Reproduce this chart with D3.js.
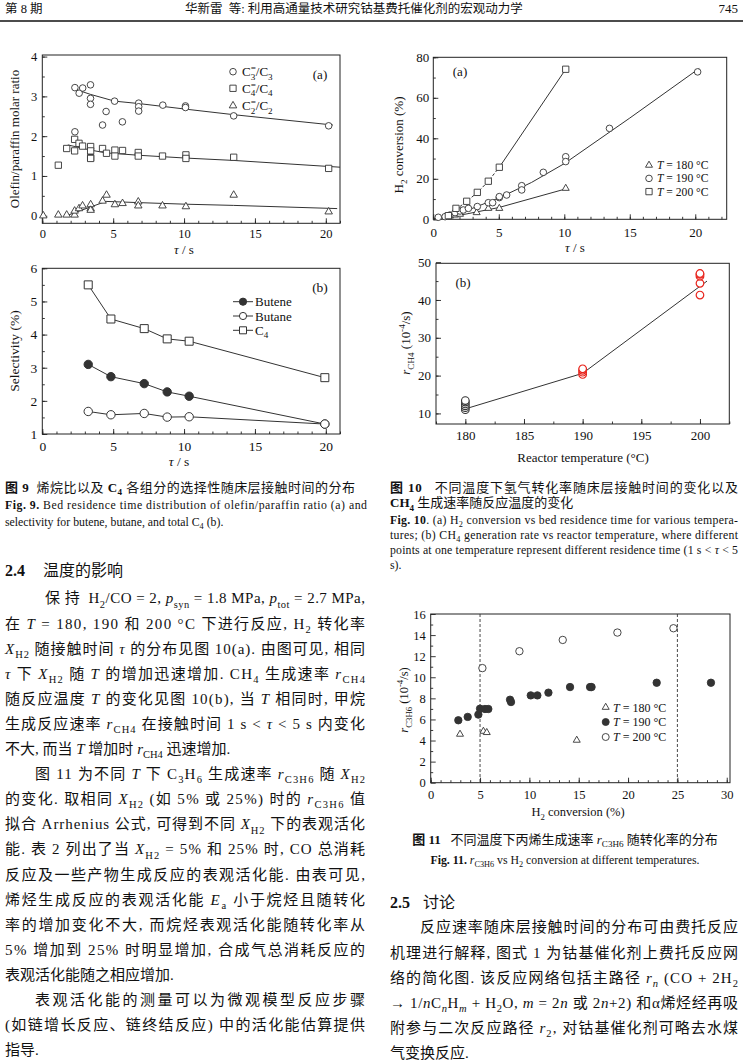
<!DOCTYPE html>
<html><head><meta charset="utf-8">
<script src="https://cdn.jsdelivr.net/npm/d3@7"></script>
<style>body{margin:0;background:#fff}svg text{white-space:pre}</style>
</head><body>
<svg id="c" width="743" height="1063"></svg>
<script>
// ---------------- DATA ----------------
// Fig 9(a): olefin/paraffin ratio vs tau
const ratioC3 = [[2.3,3.22],[2.6,3.08],[2.85,3.21],[3.4,3.29],[3.4,2.95],[3.4,2.8],[4.25,2.28],[4.5,2.62],[5.1,2.88],[5.65,2.36],[6.8,2.83],[6.8,2.74],[6.8,2.63],[8.5,2.78],[10.1,2.76],[10.1,2.72],[13.5,2.51],[20.2,2.26],[2.3,2.11]];
const ratioC4 = [[1.13,1.27],[1.72,1.69],[2.28,1.92],[2.28,1.63],[2.59,1.82],[2.84,1.75],[3.41,1.74],[3.41,1.63],[3.41,1.46],[3.41,1.44],[4.25,1.69],[4.53,1.57],[5.12,1.65],[5.12,1.5],[5.66,1.64],[6.77,1.59],[6.77,1.5],[8.48,1.5],[10.13,1.53],[10.13,1.44],[13.5,1.47],[20.2,1.19]];
const ratioC2 = [[0.07,0],[1.13,0.02],[1.72,0.02],[2.28,0.02],[2.28,0.12],[2.59,0.18],[2.84,0.25],[3.41,0.18],[3.41,0.28],[3.41,0.14],[4.25,0.37],[4.53,0.52],[5.12,0.28],[5.66,0.31],[6.77,0.35],[6.77,0.25],[8.48,0.25],[10.13,0.23],[13.5,0.52],[20.2,0.1]];
const fitC3 = [[2.3,3.18],[3.4,3.05],[5.1,2.88],[6.8,2.82],[10.1,2.68],[13.5,2.54],[20.5,2.28]];
const fitC4 = [[1.8,1.78],[3.4,1.65],[4.5,1.58],[6.8,1.52],[10.1,1.45],[13.5,1.39],[21,1.22]];
const fitC2 = [[1.7,0],[3.4,0.22],[4.5,0.36],[6.8,0.33],[10.1,0.29],[13.5,0.26],[20.8,0.18]];
// Fig 9(b): selectivity
const tau9b = [3.24,4.84,7.19,8.81,10.36,19.93];
const selButene = [3.1,2.73,2.52,2.27,2.14,1.3];
const selButane = [1.68,1.58,1.62,1.51,1.52,1.3];
const selC4 = [5.5,4.47,4.18,3.87,3.8,2.7];
// Fig 10(a): H2 conversion vs tau
const h2conv180 = [[1.27,1.6],[1.66,2.1],[2.04,2.5],[3.31,3.3],[4.2,5.4],[5.04,5.4],[10.11,15.3]];
const h2conv190 = [[0.38,1.0],[0.9,1.3],[1.27,2.1],[1.66,3.3],[2.04,4.1],[2.29,4.6],[2.68,5.4],[3.36,6.3],[4.2,8.2],[4.53,8.2],[5.04,10.7],[5.04,11.2],[5.6,12],[6.75,16.6],[6.75,14.5],[8.4,23.2],[10.11,30.9],[10.11,28.5],[13.45,44.9],[20.18,72.8]];
const h2conv200 = [[1.15,1.8],[1.73,5.4],[2.55,8.9],[3.36,13.3],[4.2,18.8],[5.04,25.7],[10.11,74.1]];
const fit180 = [[0,0],[2.5,2.6],[5,5.8],[10.1,15]];
const fit190 = [[0,0],[2.5,4.2],[5,10.5],[7.5,18.2],[10,27.5],[15,50],[20.3,74.5]];
const fit200low = [[0,0],[1.2,2.2],[2.5,8.6],[3.4,13.4],[4.2,18.8],[5.04,25.7]];
const fit200high = [[5.04,25.7],[10.15,74.5]];
// Fig 10(b): r_CH4 vs temperature
const rch4_180 = [11.0,11.5,12.0,12.5,13.0,13.4];
const rch4_190 = [20.3,20.9,21.4,21.8];
const rch4_200 = [41.3,44.4,46.3,46.8,47.0];
const fitCH4 = [[180,11.2],[190,20.6],[200.6,45]];
// Fig 11: r_C3H6 vs H2 conversion
const rc3h6_180 = [[2.97,4.6],[5.34,4.88],[5.68,4.76],[14.8,4.03]];
const rc3h6_190 = [[2.8,5.92],[3.75,6.24],[4.83,6.46],[5.0,7.02],[5.5,6.99],[5.84,6.99],[8.04,7.87],[8.14,7.65],[10.14,8.28],[10.81,8.28],[11.93,8.54],[14.12,9.07],[16.15,9.07],[16.3,9.07],[22.9,9.48],[28.4,9.48]];
const rc3h6_200 = [[5.24,10.87],[8.99,12.47],[13.38,13.54],[18.92,14.24],[24.6,14.65]];
const refConv = [5,25];
// tick labels
const ticks9x = [0,5,10,15,20], ticks9aY=[0,1,2,3,4], ticks9bY=[1,2,3,4,5,6];
const ticks10aX=[0,5,10,15,20], ticks10aY=[0,20,40,60,80];
const ticks10bX=[180,185,190,195,200], ticks10bY=[10,20,30,40,50];
const ticks11X=[0,5,10,15,20,25,30], ticks11Y=[0,2,4,6,8,10,12,14,16];

// ---------------- TEXT ----------------
const leftLines = [
 "保 持  H_{2}/CO = 2, *p*_{syn} = 1.8 MPa, *p*_{tot} = 2.7 MPa,",
 "在 *T* = 180, 190 和 200 °C 下进行反应, H_{2} 转化率",
 "*X*_{H2} 随接触时间 *τ* 的分布见图 10(a). 由图可见, 相同",
 "*τ* 下 *X*_{H2} 随 *T* 的增加迅速增加. CH_{4} 生成速率 *r*_{CH4}",
 "随反应温度 *T* 的变化见图 10(b), 当 *T* 相同时, 甲烷",
 "生成反应速率 *r*_{CH4} 在接触时间 1 s < *τ* < 5 s 内变化",
 "不大, 而当 *T* 增加时 *r*_{CH4} 迅速增加.",
 "图 11 为不同 *T* 下 C_{3}H_{6} 生成速率 *r*_{C3H6} 随 *X*_{H2}",
 "的变化. 取相同 *X*_{H2} (如 5% 或 25%) 时的 *r*_{C3H6} 值",
 "拟合 Arrhenius 公式, 可得到不同 *X*_{H2} 下的表观活化",
 "能. 表 2 列出了当 *X*_{H2} = 5% 和 25% 时, CO 总消耗",
 "反应及一些产物生成反应的表观活化能. 由表可见,",
 "烯烃生成反应的表观活化能 *E*_{a} 小于烷烃且随转化",
 "率的增加变化不大, 而烷烃表观活化能随转化率从",
 "5% 增加到 25% 时明显增加, 合成气总消耗反应的",
 "表观活化能随之相应增加.",
 "表观活化能的测量可以为微观模型反应步骤",
 "(如链增长反应、链终结反应) 中的活化能估算提供",
 "指导."
];
const leftIndent = {0:45, 7:35, 16:35};
const leftRagged = new Set([6,15,18]);
const rightLines = [
 "反应速率随床层接触时间的分布可由费托反应",
 "机理进行解释, 图式 1 为钴基催化剂上费托反应网",
 "络的简化图. 该反应网络包括主路径 *r*_{*n*} (CO + 2H_{2}",
 "→ 1/*n*C_{*n*}H_{*m*} + H_{2}O, *m* = 2*n* 或 2*n*+2) 和α烯烃经再吸",
 "附参与二次反应路径 *r*_{2}, 对钴基催化剂可略去水煤",
 "气变换反应."
];

// ---------------- HELPERS ----------------
const SERIF = "'Liberation Serif','Noto Sans CJK SC',serif";
const svg = d3.select('#c');
svg.append('rect').attr('width',743).attr('height',1063).attr('fill','#fff');

function parse(str){
  const segs=[]; let it=false,bd=false,mode=0,stack=false,buf='';
  const push=()=>{ if(buf){segs.push({t:buf,it,bd,mode,stack}); buf='';} };
  for(let i=0;i<str.length;i++){
    const c=str[i];
    if(c==='*'){push();it=!it;}
    else if(c==='#'){push();bd=!bd;}
    else if(c==='^'&&str[i+1]==='<'&&str[i+2]==='{'){push();mode=2;stack=true;i+=2;}
    else if((c==='_'||c==='^')&&str[i+1]==='{'){push();mode=c==='_'?1:2;i++;}
    else if(c==='}'&&mode){push();mode=0;stack=false;}
    else buf+=c;
  }
  push(); return segs;
}
function rich(parent, str, o){
  const fs=o.size||15;
  const t=parent.append('text').attr('x',o.x).attr('y',o.y).attr('font-size',fs)
    .style('font-family',o.family||SERIF).attr('fill',o.fill||'#111');
  if(o.anchor) t.attr('text-anchor',o.anchor);
  if(o.weight) t.attr('font-weight',o.weight);
  if(o.transform) t.attr('transform',o.transform);
  if(o.dy) t.attr('dy',o.dy);
  let cur=0,lastSub=null;
  parse(str).forEach(s=>{
    const off=s.mode===1?0.28*fs:s.mode===2?-0.38*fs:0;
    const ts=t.append('tspan').text(s.t).attr('dy',off-cur);
    cur=off;
    if(s.mode) ts.attr('font-size',fs*0.7);
    if(s.it) ts.attr('font-style','italic');
    if(s.bd) ts.attr('font-weight','bold');
    if(s.stack&&lastSub) ts.attr('dx',-lastSub.node().getComputedTextLength());
    if(s.mode===1) lastSub=ts;
  });
  if(o.width) t.attr('textLength',o.width).attr('lengthAdjust','spacing');
  return t;
}
function panel(p){
  const x=d3.scaleLinear().domain(p.xd).range([p.L,p.R]);
  const y=d3.scaleLinear().domain(p.yd).range([p.B,p.T]);
  const g=svg.append('g');
  g.append('g').attr('transform',`translate(0,${p.B})`).call(d3.axisBottom(x).tickValues(p.xMinor).tickSize(-2.5).tickFormat(''));
  g.append('g').attr('transform',`translate(${p.L},0)`).call(d3.axisLeft(y).tickValues(p.yMinor).tickSize(-2.5).tickFormat(''));
  g.append('g').attr('transform',`translate(0,${p.B})`).call(d3.axisBottom(x).tickValues(p.xMajor).tickSize(-5).tickPadding(p.xpad).tickFormat(d3.format('d')));
  g.append('g').attr('transform',`translate(${p.L},0)`).call(d3.axisLeft(y).tickValues(p.yMajor).tickSize(-5).tickPadding(p.ypad).tickFormat(d3.format('d')));
  g.selectAll('.domain').remove();
  g.selectAll('.tick line').attr('stroke','#222').attr('stroke-width',0.9);
  g.selectAll('.tick text').attr('font-size',p.fs).style('font-family',SERIF).attr('fill','#111');
  g.append('rect').attr('x',p.L).attr('y',p.T).attr('width',p.R-p.L).attr('height',p.B-p.T)
    .attr('fill','none').attr('stroke','#222').attr('stroke-width',1);
  return {g,x,y};
}
const range=(a,b,s)=>d3.range(a,b+1e-9,s);
function sym(g,type,size){
  const t={c:d3.symbolCircle,s:d3.symbolSquare,t:d3.symbolTriangle}[type];
  const area= type==='c'?Math.PI*size*size: type==='s'?size*size: Math.sqrt(3)/4*size*size;
  return g.append('path').attr('d',d3.symbol().type(t).size(area)());
}
function points(P,data,type,size,opt={}){
  data.forEach(d=>{
    sym(P.g,type,size).attr('transform',`translate(${P.x(d[0])},${P.y(d[1])})`)
      .attr('fill',opt.fill||'#fff').attr('stroke',opt.stroke||'#333').attr('stroke-width',opt.sw||0.9);
  });
}
function line(P,data,opt={}){
  P.g.append('path').attr('d',d3.line().x(d=>P.x(d[0])).y(d=>P.y(d[1]))(data))
    .attr('fill','none').attr('stroke',opt.stroke||'#333').attr('stroke-width',opt.sw||1)
    .attr('stroke-dasharray',opt.dash||null);
}
function ytitle(str,cx,cy,fs){ rich(svg,str,{x:0,y:0,size:fs,anchor:'middle',dy:'0.35em',transform:`translate(${cx},${cy}) rotate(-90)`}); }
function xtitle(str,cx,cy,fs){ rich(svg,str,{x:cx,y:cy+0.35*fs,size:fs,anchor:'middle'}); }

// ---------------- HEADER ----------------
rich(svg,"第 8 期",{x:5,y:13,size:12.5});
rich(svg,"华新雷  等: 利用高通量技术研究钴基费托催化剂的宏观动力学",{x:185,y:13,size:12.5});
rich(svg,"745",{x:738,y:13,size:13,anchor:'end'});
svg.append('line').attr('x1',0).attr('x2',743).attr('y1',21).attr('y2',21).attr('stroke','#111').attr('stroke-width',1.3);

// ---------------- FIG 9(a) ----------------
{
 const P=panel({L:42.3,R:340,T:55,B:223.3,xd:[0,21],yd:[-0.19,4.04],xMajor:ticks9x,xMinor:range(0,21,1),
   yMajor:ticks9aY,yMinor:range(-0.0,4,0.5),xpad:6,ypad:5,fs:12.5});
 line(P,fitC3); line(P,fitC4); line(P,fitC2);
 points(P,ratioC3,'c',3.3); points(P,ratioC4,'s',6.3); points(P,ratioC2,'t',7.5);
 const leg=[['c',"C_{3}^<{=}/C_{3}"],['s',"C_{4}^<{=}/C_{4}"],['t',"C_{2}^<{=}/C_{2}"]];
 const ly=[71.7,88.3,105.7];
 leg.forEach((l,i)=>{
   sym(P.g,l[0],l[0]==='c'?3.3:l[0]==='s'?6.3:7.5).attr('transform',`translate(233,${ly[i]})`).attr('fill','#fff').attr('stroke','#333').attr('stroke-width',0.9);
   rich(svg,l[1],{x:242,y:ly[i]+4.5,size:13});
 });
 rich(svg,"(a)",{x:320,y:78.5,size:13,anchor:'middle'});
 ytitle("Olefin/paraffin molar ratio",19,139,13);
 xtitle("*τ* / s",184,249,13);
}
// ---------------- FIG 9(b) ----------------
{
 const P=panel({L:42.3,R:340,T:268.3,B:434,xd:[0,21],yd:[1,6],xMajor:ticks9x,xMinor:range(0,21,1),
   yMajor:ticks9bY,yMinor:range(1,6,0.5),xpad:7,ypad:5,fs:13.5});
 const toPts=v=>tau9b.map((t,i)=>[t,v[i]]);
 line(P,toPts(selC4)); line(P,toPts(selButene)); line(P,toPts(selButane));
 points(P,toPts(selC4),'s',8,{sw:1});
 points(P,toPts(selButene),'c',4.2,{fill:'#333',sw:1});
 points(P,toPts(selButane),'c',4.2,{sw:1});
 const leg=[['c','#333',"Butene"],['c','#fff',"Butane"],['s','#fff',"C_{4}"]];
 const ly=[301.7,316,330.3];
 leg.forEach((l,i)=>{
   P.g.append('line').attr('x1',233).attr('x2',253).attr('y1',ly[i]).attr('y2',ly[i]).attr('stroke','#333');
   sym(P.g,l[0],l[0]==='c'?3.6:7).attr('transform',`translate(243,${ly[i]})`).attr('fill',l[1]).attr('stroke','#333');
   rich(svg,l[2],{x:255,y:ly[i]+4.5,size:13});
 });
 rich(svg,"(b)",{x:320,y:291.5,size:13.5,anchor:'middle'});
 ytitle("Selectivity (%)",19,351,13.5);
 xtitle("*τ* / s",179,461.7,13.5);
}
// ---------------- FIG 10(a) ----------------
{
 const P=panel({L:433.3,R:726.7,T:57.3,B:219.3,xd:[0,22.4],yd:[0,80],xMajor:ticks10aX,xMinor:range(0,22,1),
   yMajor:ticks10aY,yMinor:range(0,80,10),xpad:8,ypad:4,fs:13});
 line(P,fit180); line(P,fit190); line(P,fit200low,{dash:'3,2'}); line(P,fit200high);
 points(P,h2conv180,'t',7); points(P,h2conv190,'c',3.3); points(P,h2conv200,'s',6.3);
 const leg=[['t',"*T* = 180 °C"],['c',"*T* = 190 °C"],['s',"*T* = 200 °C"]];
 const ly=[165.2,178.4,191.6];
 leg.forEach((l,i)=>{
   sym(P.g,l[0],l[0]==='c'?3.3:l[0]==='s'?6.3:7).attr('transform',`translate(649,${ly[i]})`).attr('fill','#fff').attr('stroke','#333').attr('stroke-width',0.9);
   rich(svg,l[1],{x:657,y:ly[i]+4,size:11.6});
 });
 rich(svg,"(a)",{x:460,y:75.5,size:13,anchor:'middle'});
 ytitle("H_{2} conversion (%)",403,145,13);
 xtitle("*τ* / s",575,247.7,13);
}
// ---------------- FIG 10(b) ----------------
{
 const P=panel({L:436,R:729.3,T:263.3,B:424,xd:[177.5,202.5],yd:[7.2,49.7],xMajor:ticks10bX,xMinor:range(177.5,202.5,2.5),
   yMajor:ticks10bY,yMinor:range(10,45,5),xpad:7,ypad:5,fs:13});
 line(P,fitCH4);
 points(P,rch4_180.map(v=>[180,v]),'c',3.8,{stroke:'#333',sw:1.1});
 points(P,rch4_190.map(v=>[190,v]),'c',3.8,{stroke:'#e8231b',sw:1.2});
 points(P,rch4_200.map(v=>[200,v]),'c',3.8,{stroke:'#e8231b',sw:1.2});
 rich(svg,"(b)",{x:463,y:286.5,size:13,anchor:'middle'});
 ytitle("*r*_{CH4} (10^{-4}/s)",410,343,13);
 xtitle("Reactor temperature (°C)",583,457,13);
}
// ---------------- FIG 11 ----------------
{
 const P=panel({L:430.7,R:730,T:614,B:782.7,xd:[0,30.33],yd:[0,16],xMajor:ticks11X,xMinor:range(0,30,1),
   yMajor:ticks11Y,yMinor:range(1,15,2),xpad:7,ypad:5,fs:12.5});
 refConv.forEach(v=>P.g.append('line').attr('x1',P.x(v)).attr('x2',P.x(v)).attr('y1',614).attr('y2',782.7)
   .attr('stroke','#333').attr('stroke-dasharray','3,2').attr('stroke-width',0.9));
 points(P,rc3h6_180,'t',7); points(P,rc3h6_190,'c',3.7,{fill:'#333'}); points(P,rc3h6_200,'c',3.7);
 const leg=[['t','#fff',"*T* = 180 °C"],['c','#333',"*T* = 190 °C"],['c','#fff',"*T* = 200 °C"]];
 const ly=[707.3,722,737];
 leg.forEach((l,i)=>{
   sym(P.g,l[0],l[0]==='c'?3.5:7).attr('transform',`translate(605.7,${ly[i]})`).attr('fill',l[1]).attr('stroke','#333').attr('stroke-width',0.9);
   rich(svg,l[2],{x:613,y:ly[i]+4.3,size:12});
 });
 ytitle("*r*_{C3H6} (10^{-4}/s)",408,700,12.5);
 xtitle("H_{2} conversion (%)",578,811.7,12.5);
}

// ---------------- CAPTIONS & BODY TEXT ----------------
rich(svg,"#图 9#  烯烷比以及 #C_{4}# 各组分的选择性随床层接触时间的分布",{x:5,y:491.5,size:13,width:350});
rich(svg,"#Fig. 9.# Bed residence time distribution of olefin/paraffin ratio (a) and",{x:5,y:509,size:11.8,width:362});
rich(svg,"selectivity for butene, butane, and total C_{4} (b).",{x:5,y:525.7,size:11.8});
rich(svg,"#2.4#",{x:5,y:576,size:16});
rich(svg,"温度的影响",{x:43,y:576,size:16});

leftLines.forEach((s,i)=>{
  const x0=leftIndent[i]!==undefined?leftIndent[i]:5;
  rich(svg,s,{x:x0,y:598+25.1*i+5.4,size:15,width:leftRagged.has(i)?null:365-x0});
});

rich(svg,"#图 10#   不同温度下氢气转化率随床层接触时间的变化以及",{x:390,y:491.5,size:13,width:348});
rich(svg,"#CH_{4}# 生成速率随反应温度的变化",{x:390,y:507,size:13});
rich(svg,"#Fig. 10#. (a) H_{2} conversion vs bed residence time for various tempera-",{x:390,y:524,size:11.8,width:348});
rich(svg,"tures; (b) CH_{4} generation rate vs reactor temperature, where different",{x:390,y:539,size:11.8,width:348});
rich(svg,"points at one temperature represent different residence time (1 s < *τ* < 5",{x:390,y:554,size:11.8,width:348});
rich(svg,"s).",{x:390,y:569,size:11.8});

rich(svg,"#图 11#   不同温度下丙烯生成速率 *r*_{C3H6} 随转化率的分布",{x:565,y:843.5,size:13,anchor:'middle'});
rich(svg,"#Fig. 11.# *r*_{C3H6} vs H_{2} conversion at different temperatures.",{x:565,y:864,size:11.8,anchor:'middle'});
rich(svg,"#2.5#",{x:390,y:907.5,size:16});
rich(svg,"讨论",{x:423,y:907.5,size:16});
rightLines.forEach((s,i)=>{
  const x0=i===0?420:390;
  rich(svg,s,{x:x0,y:927+25.2*i+5.4,size:15,width:i===5?null:738-x0});
});
</script>
</body></html>
